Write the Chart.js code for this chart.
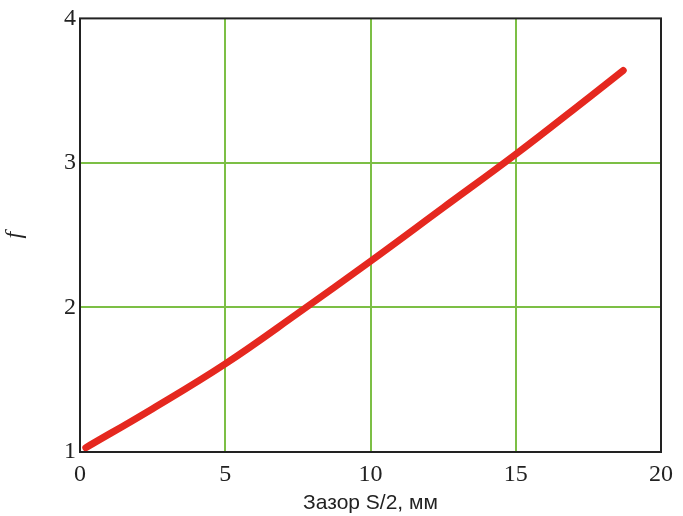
<!DOCTYPE html>
<html>
<head>
<meta charset="utf-8">
<script src="https://cdn.jsdelivr.net/npm/chart.js@4"></script>
<style>
  html, body { margin: 0; padding: 0; background: #fff; }
  #wrap { width: 683px; height: 516px; }
</style>
</head>
<body>
<div id="wrap"><canvas id="chart" width="683" height="516"></canvas></div>
<script>
// Gap S/2 (mm) and the factor f
const gapValues = [0.2, 2.5, 5, 7.5, 10, 12.5, 15, 17.5, 18.7];
const fValues = [1.03, 1.30, 1.61, 1.96, 2.32, 2.69, 3.06, 3.45, 3.64];
const xTicks = [0, 5, 10, 15, 20];
const yTicks = [1, 2, 3, 4];

const points = gapValues.map((x, i) => ({ x: x, y: fValues[i] }));

// black frame round the plot area
const frame = {
  id: 'frame',
  afterDraw(chart) {
    const a = chart.chartArea;
    const c = chart.ctx;
    c.save();
    c.strokeStyle = '#222';
    c.lineWidth = 2;
    c.strokeRect(a.left, a.top, a.right - a.left, a.bottom - a.top);
    c.restore();
  }
};

const gridColor = ctx => (ctx.index === 0 || ctx.index === ctx.scale.ticks.length - 1) ? 'rgba(0,0,0,0)' : '#7cbf45';

new Chart(document.getElementById('chart'), {
  type: 'scatter',
  data: {
    datasets: [{
      data: points,
      showLine: true,
      borderColor: '#e5281f',
      borderWidth: 7,
      pointRadius: 0,
      tension: 0.4,
      borderCapStyle: 'round'
    }]
  },
  plugins: [frame],
  options: {
    responsive: false,
    animation: false,
    layout: { padding: { left: 0, right: 22, top: 16, bottom: 0 } },
    plugins: { legend: { display: false }, tooltip: { enabled: false } },
    scales: {
      x: {
        type: 'linear',
        min: 0,
        max: 20,
        afterBuildTicks: s => { s.ticks = xTicks.map(v => ({ value: v })); },
        afterFit: s => { s.height = 64; },
        grid: { color: gridColor, lineWidth: 2, drawTicks: false },
        border: { display: false },
        ticks: {
          padding: 8,
          color: '#222',
          font: { family: 'Liberation Serif', size: 24 }
        },
        title: {
          display: true,
          text: 'Зазор S/2, мм',
          color: '#222',
          font: { family: 'Liberation Sans', size: 21 },
          padding: { top: 0, bottom: 0 }
        }
      },
      y: {
        type: 'linear',
        min: 1,
        max: 4,
        afterBuildTicks: s => { s.ticks = yTicks.map(v => ({ value: v })); },
        afterFit: s => { s.width = 80; },
        grid: { color: gridColor, lineWidth: 2, drawTicks: false },
        border: { display: false },
        ticks: {
          padding: 4,
          color: '#222',
          font: { family: 'Liberation Serif', size: 24 }
        },
        title: {
          display: true,
          text: 'f',
          color: '#222',
          font: { family: 'Liberation Serif', size: 24, style: 'italic' },
          padding: { top: 0, bottom: 0 }
        }
      }
    }
  }
});
</script>
</body>
</html>
